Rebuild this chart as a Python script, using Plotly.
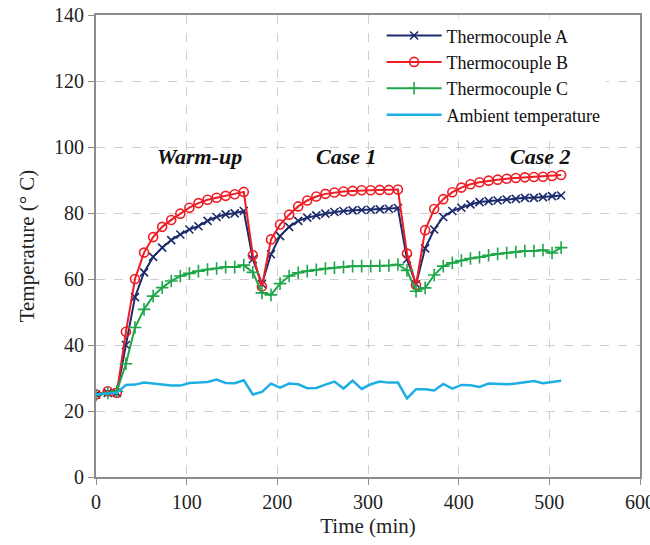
import plotly.graph_objects as go

# time of each reading (min)
time_min = [0, 13, 23, 33, 43, 53, 63, 73, 83, 93, 103, 113, 123, 133, 143, 153, 163,
            173, 183, 193, 203, 213, 223, 233, 243, 253, 263, 273, 283, 293, 303, 313, 323, 333,
            343, 353, 363, 373, 383, 393, 403, 413, 423, 433, 443, 453, 463, 473, 483, 493, 503, 513]

tc_a = [25, 25.5, 25.5, 40, 54.5, 62, 66.7, 69.5, 71.8, 73.5, 75, 76, 77.6, 78.8, 79.6, 79.9, 80.6,
        66, 58.5, 67.5, 73, 75.8, 77.6, 78.6, 79.3, 79.8, 80.3, 80.6, 80.8, 80.9, 81, 81.1, 81.3, 81.5,
        66, 58.4, 69.3, 75, 78.8, 80.6, 81.6, 82.6, 83.3, 83.6, 83.8, 84.1, 84.3, 84.6, 84.6, 84.8, 85.1, 85.3]

tc_b = [25, 26, 25.5, 44, 60, 68, 72.7, 75.8, 77.9, 79.8, 81.6, 83, 84, 84.6, 85.2, 85.7, 86.4,
        67.2, 57.7, 72, 76.5, 79.5, 82, 83.8, 85, 85.8, 86.2, 86.5, 86.7, 86.9, 86.9, 87, 87, 87.1,
        67.7, 58.2, 74.8, 81.2, 84.2, 86.3, 87.7, 88.7, 89.3, 89.8, 90.1, 90.4, 90.6, 90.8, 90.9, 91, 91.2, 91.5]

tc_c = [24.8, 25.5, 26, 34.3, 45.3, 50.8, 54.8, 57.4, 59.4, 60.9, 61.7, 62.4, 62.9, 63.2, 63.6, 63.6, 64.2,
        62, 55.8, 55.2, 58.6, 60.9, 61.9, 62.4, 62.8, 63.2, 63.4, 63.6, 63.9, 63.9, 63.9, 64, 64.1, 64.4,
        62.6, 56.3, 57.3, 61.2, 63.9, 64.9, 65.6, 66.2, 66.6, 67.2, 67.6, 67.9, 68.2, 68.5, 68.5, 68.8, 67.9, 69.5]

ambient = [25, 25.3, 25.5, 27.9, 28, 28.6, 28.3, 28, 27.7, 27.7, 28.5, 28.6, 28.8, 29.5, 28.5, 28.4, 29.3,
           25, 25.8, 28.3, 27.1, 28.3, 28.1, 26.9, 27, 28, 28.9, 26.8, 29.2, 26.7, 28.1, 28.9, 28.6, 28.6,
           23.8, 26.6, 26.6, 26.2, 28.2, 26.8, 27.9, 27.8, 27.3, 28.3, 28.2, 28.1, 28.3, 28.6, 29.1, 28.4, 28.8, 29.2]

labels = ['Warm-up', 'Case 1', 'Case 2']
label_x = [114, 276, 490]
label_y = [97, 97, 97]

serif = 'Liberation Serif, Times New Roman, serif'

fig = go.Figure()
fig.add_trace(go.Scatter(x=time_min, y=tc_a, mode='lines+markers', name='Thermocouple A',
                         line=dict(color='#1b2a6b', width=2),
                         marker=dict(symbol='x-thin-open', size=8, line=dict(color='#1b2a6b', width=1.6))))
fig.add_trace(go.Scatter(x=time_min, y=tc_b, mode='lines+markers', name='Thermocouple B',
                         line=dict(color='#ee1c24', width=2),
                         marker=dict(symbol='circle-open', size=9, color='#ee1c24', line=dict(width=1.6))))
fig.add_trace(go.Scatter(x=time_min, y=tc_c, mode='lines+markers', name='Thermocouple C',
                         line=dict(color='#1fa64a', width=2),
                         marker=dict(symbol='cross-thin-open', size=9, line=dict(color='#1fa64a', width=1.6))))
fig.add_trace(go.Scatter(x=time_min, y=ambient, mode='lines', name='Ambient temperature',
                         line=dict(color='#1eaee6', width=2.5)))

for txt, x, y in zip(labels, label_x, label_y):
    fig.add_annotation(x=x, y=y, text='<b><i>' + txt + '</i></b>', showarrow=False,
                       font=dict(family=serif, size=22, color='#111111'))

axis_style = dict(showline=True, linecolor='#8c8c8c', linewidth=2, mirror=True,
                  showgrid=True, gridcolor='#cfcfcf', griddash='dash', gridwidth=1,
                  ticks='outside', ticklen=6, tickcolor='#8c8c8c', zeroline=False,
                  automargin=False, ticklabeloverflow='allow',
                  tickfont=dict(family=serif, size=20, color='#222222'))

fig.update_xaxes(range=[0, 600], dtick=100,
                 title=dict(text='Time (min)', font=dict(family=serif, size=21, color='#222222'), standoff=6),
                 **axis_style)
fig.update_yaxes(range=[0, 140], dtick=20,
                 title=dict(text='Temperature (° C)', font=dict(family=serif, size=21, color='#222222'), standoff=14),
                 **axis_style)

fig.update_layout(
    width=650, height=545,
    margin=dict(l=96, r=10, t=15, b=68),
    plot_bgcolor='white', paper_bgcolor='white',
    legend=dict(x=0.525, y=0.995, xanchor='left', yanchor='top', bgcolor='rgba(255,255,255,0.9)',
                font=dict(family=serif, size=18, color='#111111'), tracegroupgap=0, itemwidth=55),
)

# page body has a default margin; drop it so the figure fills the window
fig.write_html("out.html", config={'displayModeBar': False},
               post_script="document.body.style.margin='0';")
